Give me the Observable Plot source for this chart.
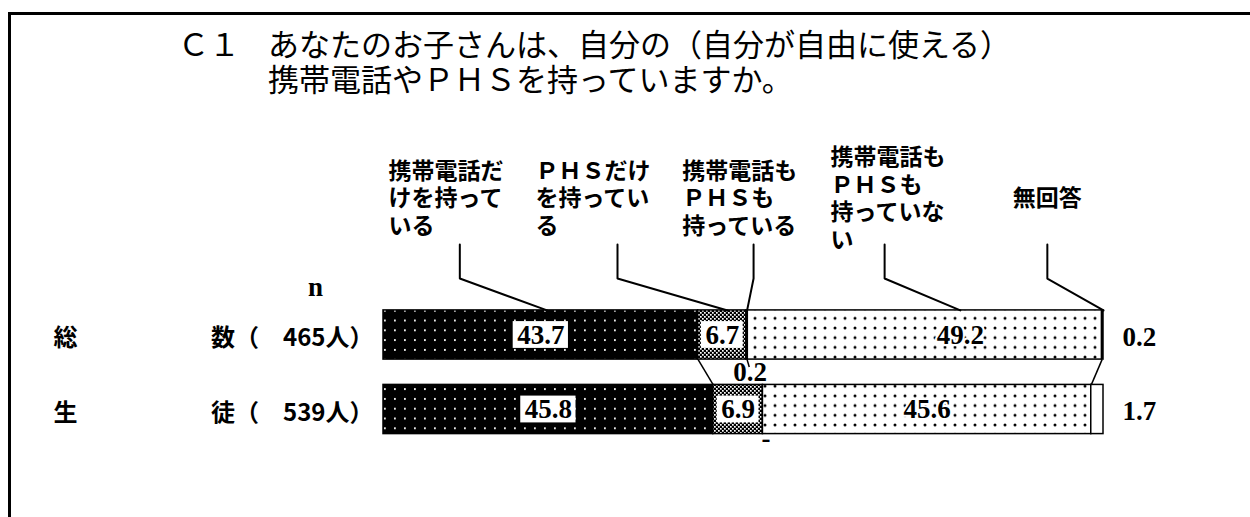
<!DOCTYPE html>
<html><head><meta charset="utf-8">
<script src="https://cdn.jsdelivr.net/npm/d3@7"></script>
<script src="https://cdn.jsdelivr.net/npm/@observablehq/plot@0.6"></script>
<style>
body{margin:0;background:#fff;}
#page{position:relative;width:1250px;height:517px;overflow:hidden;background:#fff;font-family:"Noto Sans CJK JP",sans-serif;color:#000;}
#frame{position:absolute;left:8px;top:12px;width:1260px;height:530px;border-top:3px solid #000;border-left:3px solid #000;}
.t{position:absolute;font-size:31px;line-height:31px;white-space:pre;}
#chart{position:absolute;left:0;top:100px;}
</style></head>
<body>
<div id="page"><div id="frame"></div><div id="title"></div><div id="chart"></div></div>
<script>
// ---- data ----
const questionNo = "Ｃ１";
const titleLines = ["あなたのお子さんは、自分の（自分が自由に使える）", "携帯電話やＰＨＳを持っていますか。"];
const categories = ["携帯電話だけを持っている", "ＰＨＳだけを持っている", "携帯電話もＰＨＳも持っている", "携帯電話もＰＨＳも持っていない", "無回答"];
const legendLines = [["携帯電話だ","けを持って","いる"], ["ＰＨＳだけ","を持ってい","る"], ["携帯電話も","ＰＨＳも","持っている"], ["携帯電話も","ＰＨＳも","持っていな","い"], ["無回答"]];
const groups = ["総数", "生徒"];
const groupN = [465, 539];
const valuesTotal = [43.7, 6.7, 0.2, 49.2, 0.2];
const valuesStudents = [45.8, 6.9, 0, 45.6, 1.7];

// ---- layout / style ----
const W = 1250, ML = 383, MR = 147;
const PXU = (W - ML - MR) / 100;                     // pixels per percent
const HALF = 0.33;                                   // half bar thickness (row units)
const BOXH = 0.18;                                   // half height of label boxes (row units)
const fills = ["url(#pDark)", "url(#pCheck)", "#fff", "url(#pDots)", "#fff"];
const legendX = [0.7, 21.1, 41.5, 62.1, 87.4];
const leaderX = [10.6, 32.5, 51.4, 69.6, 92.2];
const leaderFrac = [0.52, 0.61, 0.5, 0.6, 1];
const legendY = -1.846, leaderTop = -1.215, leaderBend = -0.758;
const CJK = '"Noto Sans CJK JP", sans-serif';
const NUM = '"Liberation Serif", "DejaVu Serif", serif';
const NUMSIZE = 27;

// title
const tdiv = document.getElementById("title");
tdiv.innerHTML = `<div class="t" style="left:178px;top:27px">${questionNo}</div>` +
  titleLines.map((s, i) => `<div class="t" style="left:268px;top:${27 + 35 * i}px">${s}</div>`).join("");

// segments
const seriesValues = [valuesTotal, valuesStudents];
const segs = [];
groups.forEach((g, r) => {
  let c = 0;
  seriesValues[r].forEach((v, k) => { segs.push({row: r, group: g, cat: k, value: v, x1: c, x2: c + v}); c += v; });
});
const seg = (r, k) => segs.find(d => d.row === r && d.cat === k);
const fmt = v => v === 0 ? "-" : v.toFixed(1);
const mid = d => (d.x1 + d.x2) / 2;

// leaders
const leaderPts = [];
categories.forEach((c, k) => {
  const s = seg(0, k);
  leaderPts.push({k, x: leaderX[k], y: leaderTop}, {k, x: leaderX[k], y: leaderBend}, {k, x: s.x1 + leaderFrac[k] * s.value, y: -HALF});
});
const legendData = categories.map((c, k) => ({k, text: legendLines[k].join("\n")}));

// connectors between bars at boundaries
const connectors = [0, 3].map(k => ({x1: seg(0, k).x2, x2: seg(1, k).x2}));

const boxed = segs.filter(d => d.cat <= 1);
const boxHalfW = d => ((fmt(d.value).length - 0.5) * NUMSIZE * 0.5 + 8) / 2 / PXU;
const seg4 = segs.filter(d => d.cat === 3);
const seg4Frac = [0.6, 0.5];
const seg3 = segs.filter(d => d.cat === 2);
const seg3Y = [0.5, 0.39];
const seg5 = segs.filter(d => d.cat === 4);

const chart = Plot.plot({
  width: W, height: 417,
  marginLeft: ML, marginRight: MR, marginTop: 0, marginBottom: 0,
  x: {domain: [0, 100], axis: null},
  y: {domain: [0, 1], range: [234.5, 309], axis: null},
  style: {background: "transparent", fontFamily: CJK},
  marks: [
    Plot.rect(segs, {x1: "x1", x2: "x2", y1: d => d.row - HALF, y2: d => d.row + HALF, fill: d => fills[d.cat], stroke: "#000", strokeWidth: 1.5}),
    Plot.rect(boxed, {x1: d => mid(d) - boxHalfW(d), x2: d => mid(d) + boxHalfW(d), y1: d => d.row - BOXH, y2: d => d.row + BOXH, fill: "#fff"}),
    Plot.link(connectors, {x1: "x1", x2: "x2", y1: HALF, y2: 1 - HALF, stroke: "#000", strokeWidth: 1.5}),
    Plot.line(leaderPts, {x: "x", y: "y", z: "k", stroke: "#000", strokeWidth: 2}),
    Plot.text(legendData, {x: d => legendX[d.k], y: legendY, text: "text", textAnchor: "start", lineAnchor: "middle", lineHeight: 1.2, fontSize: 23, fontWeight: "bold", fontFamily: CJK, fill: "#000"}),
    Plot.text(boxed, {x: mid, y: "row", text: d => fmt(d.value), fontSize: NUMSIZE, fontWeight: "bold", fontFamily: NUM, fill: "#000"}),
    Plot.text(seg4, {x: d => d.x1 + seg4Frac[d.row] * d.value, y: "row", text: d => fmt(d.value), fontSize: NUMSIZE, fontWeight: "bold", fontFamily: NUM, fill: "#000", stroke: "#fff", strokeWidth: 4}),
    Plot.text(seg3, {x: mid, dx: 3, y: d => d.row + seg3Y[d.row], text: d => fmt(d.value), fontSize: NUMSIZE, fontWeight: "bold", fontFamily: NUM, fill: "#000"}),
    Plot.link(seg3.filter(d => d.row === 0), {x1: mid, x2: d => mid(d) + 0.3, y1: HALF, y2: HALF + 0.1, stroke: "#000", strokeWidth: 1.5}),
    Plot.text(seg5, {x: "x2", dx: 19, y: d => d.row + 0.03, text: d => fmt(d.value), textAnchor: "start", fontSize: NUMSIZE, fontWeight: "bold", fontFamily: NUM, fill: "#000"}),
    Plot.text(groups, {x: 0, dx: -330, y: (d, i) => i + 0.05, text: d => d[0], textAnchor: "start", fontSize: 24, fontWeight: "bold", fontFamily: CJK, fill: "#000"}),
    Plot.text(groups, {x: 0, dx: -10, y: (d, i) => i + 0.05, text: (d, i) => `${d[1]}（　${groupN[i]}人）`, textAnchor: "end", fontSize: 24, fontWeight: "bold", fontFamily: CJK, fill: "#000"}),
    Plot.text(["n"], {x: 0, dx: -68, y: -0.64, text: d => d, fontSize: 27, fontWeight: "bold", fontFamily: NUM, fill: "#000"})
  ]
});

d3.select(chart).insert("defs", ":first-child").html(`
<pattern id="pDark" patternUnits="userSpaceOnUse" width="10" height="9.8"><rect width="10" height="9.8" fill="#000"/><rect x="4" y="4" width="1.8" height="1.8" fill="#fff"/></pattern>
<pattern id="pCheck" patternUnits="userSpaceOnUse" width="4" height="4"><rect width="4" height="4" fill="#000"/><rect x="0" y="0" width="1.7" height="1.7" fill="#fff"/><rect x="2" y="2" width="1.7" height="1.7" fill="#fff"/></pattern>
<pattern id="pDots" patternUnits="userSpaceOnUse" width="10" height="9.7"><rect width="10" height="9.7" fill="#fff"/><circle cx="5" cy="4.8" r="1.5" fill="#000"/></pattern>`);

document.getElementById("chart").appendChild(chart);
</script>
</body></html>
